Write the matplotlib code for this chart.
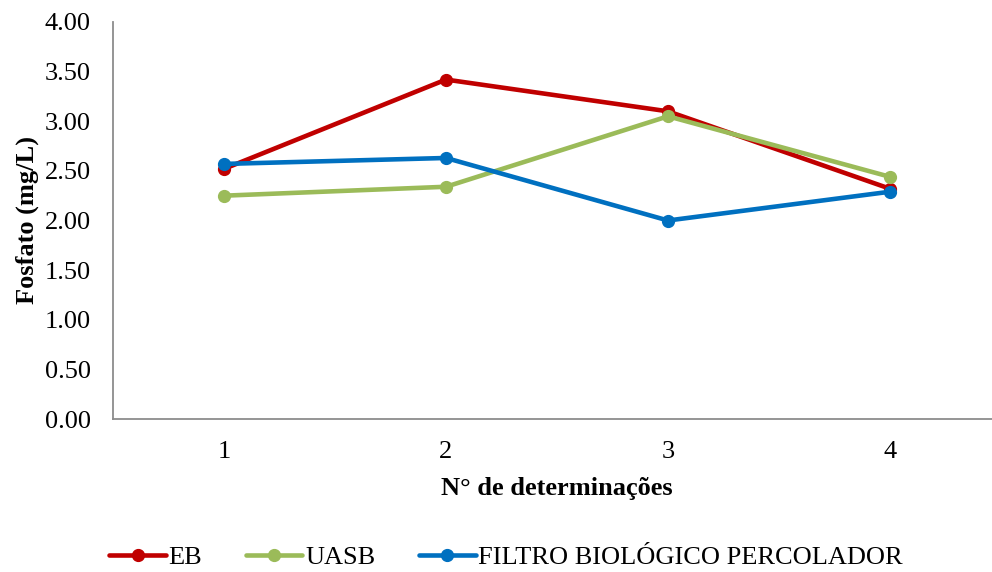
import matplotlib
matplotlib.use('Agg')
import matplotlib.pyplot as plt

plt.rcParams['font.family'] = ['Liberation Serif', 'DejaVu Serif']

determinacoes = [1, 2, 3, 4]
eb = [2.52, 3.42, 3.10, 2.32]
uasb = [2.25, 2.34, 3.05, 2.44]
filtro = [2.57, 2.63, 2.00, 2.29]

series = [
    ('EB', eb, '#C00000'),
    ('UASB', uasb, '#9BBB59'),
    ('FILTRO BIOLÓGICO PERCOLADOR', filtro, '#0070C0'),
]

W, H = 992, 572
FS = 19
fig = plt.figure(figsize=(W / 100, H / 100), dpi=100)
# category axis: half a slot of padding on each side, right edge runs past the figure
ax = fig.add_axes([113 / W, 1 - 419 / H, (1001 - 113) / W, (419 - 22) / H])

for name, vals, col in series:
    ax.plot(determinacoes, vals, color=col, lw=3.3, marker='o', ms=8.5,
            label=name, solid_capstyle='round')

ax.set_xlim(0.5, 4.5)
ax.set_ylim(0, 4)
ax.set_xticks(determinacoes)
ax.set_yticks([i * 0.5 for i in range(9)])
ax.set_yticklabels(['%.2f' % (i * 0.5) for i in range(9)])
ax.tick_params(length=0, labelsize=FS)
ax.tick_params(axis='y', pad=16)
ax.tick_params(axis='x', pad=16)

for s in ['top', 'right']:
    ax.spines[s].set_visible(False)
for s in ['left', 'bottom']:
    ax.spines[s].set_color('#8c8c8c')
    ax.spines[s].set_linewidth(1.3)

ax.set_ylabel('Fosfato (mg/L)', fontsize=FS, fontweight='bold', labelpad=4)
ax.set_xlabel('N° de determinações', fontsize=FS, fontweight='bold', labelpad=10)

fig.legend(loc='center', bbox_to_anchor=(506 / W, 1 - 557 / H), ncol=3,
           frameon=False, fontsize=FS, handlelength=2.15, handletextpad=0.1,
           columnspacing=1.65, borderpad=0)

fig.savefig('out.png', dpi=100)
